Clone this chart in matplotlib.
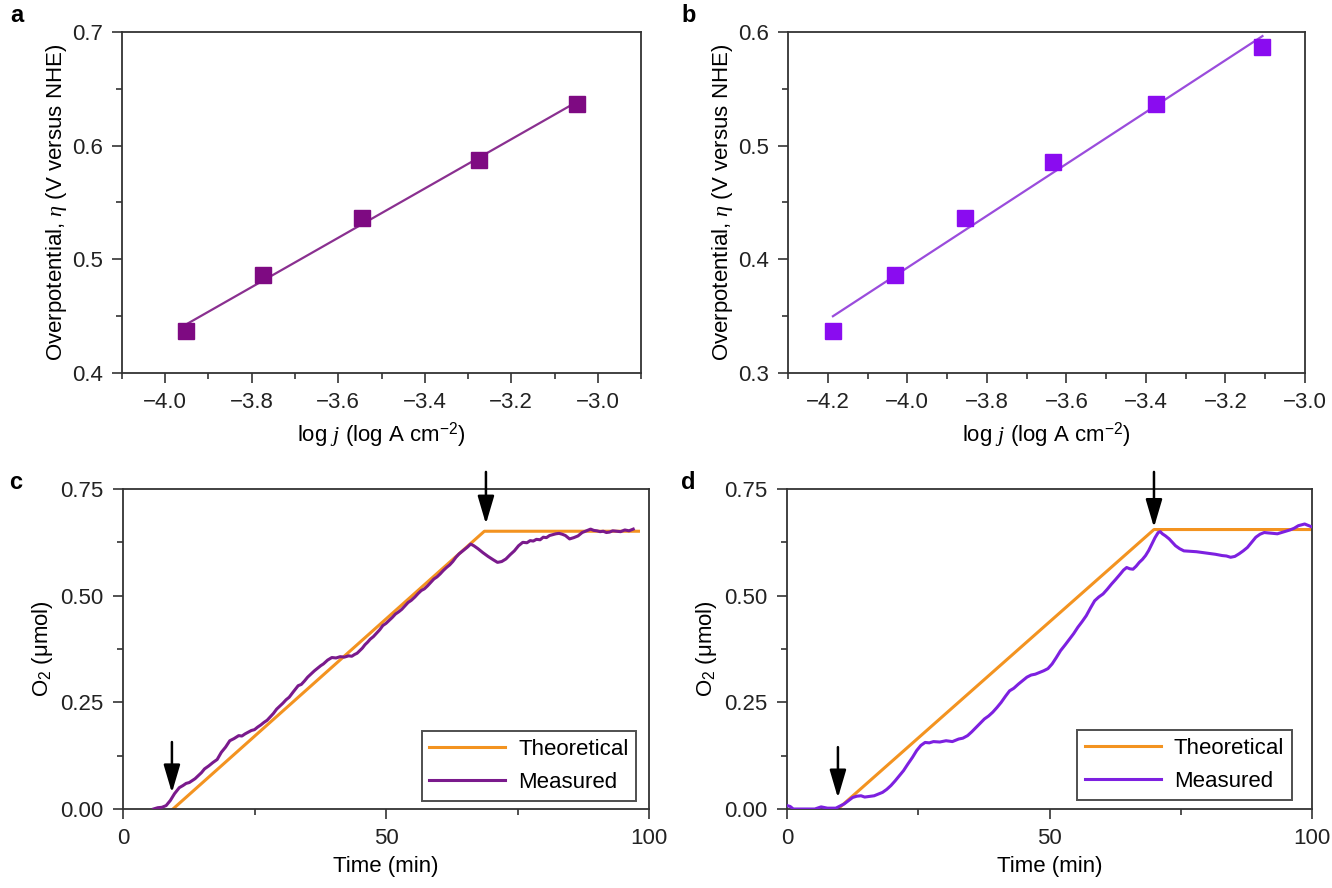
import numpy as np
import matplotlib
matplotlib.use("Agg")
import matplotlib.pyplot as plt
from matplotlib.ticker import MultipleLocator, FuncFormatter

plt.rcParams["font.family"] = ["Liberation Sans", "DejaVu Sans"]
plt.rcParams["mathtext.fontset"] = "custom"
plt.rcParams["mathtext.it"] = "Liberation Serif:italic"
plt.rcParams["mathtext.rm"] = "Liberation Sans"
plt.rcParams["axes.unicode_minus"] = True

# ---- Tafel data ----
tafel_a_logj = [-3.951, -3.774, -3.544, -3.275, -3.049]
tafel_a_eta = [0.437, 0.486, 0.536, 0.587, 0.637]

tafel_b_logj = [-4.187, -4.032, -3.856, -3.633, -3.374, -3.107]
tafel_b_eta = [0.337, 0.386, 0.436, 0.486, 0.537, 0.587]

# ---- O2 evolution: theoretical ----
theo_c_t = [9.5, 68.7, 98.0]
theo_c_o2 = [0.0, 0.651, 0.651]

theo_d_t = [9.7, 69.9, 100.0]
theo_d_o2 = [0.0, 0.655, 0.655]

# ---- O2 evolution: measured ----
meas_c_t = [5.8, 6.6, 7.4, 8.2, 9.0, 9.8, 10.7, 11.4, 12.0, 12.6, 13.1, 13.7, 14.3, 14.9,
            15.5, 16.3, 17.1, 17.9, 18.7, 19.5, 20.3, 21.1, 22.0, 22.6, 23.2, 23.8,
            24.4, 25.0, 25.6, 26.2, 26.8, 27.4, 28.0, 28.6, 29.2, 29.8, 30.4, 31.0,
            31.6, 32.4, 33.3, 33.9, 34.5, 35.1, 35.7, 36.4, 37.0, 37.6, 38.1, 38.9,
            39.7, 40.5, 41.3, 42.1, 42.9, 43.5, 44.0, 44.5, 45.0, 45.5, 46.0, 46.5,
            47.0, 47.6, 48.2, 48.8, 49.4, 50.0, 50.6, 51.2, 51.8, 52.4, 53.0, 53.6,
            54.2, 54.8, 55.5, 56.1, 56.7, 57.3, 57.9, 58.5, 59.1, 59.7, 60.3, 60.9,
            61.5, 62.1, 62.7, 63.3, 63.9, 64.7, 65.5, 66.1, 66.7, 67.5, 68.4, 69.4,
            70.4, 71.2, 72.0, 72.8, 73.6, 74.4, 75.2, 76.0, 76.8, 77.4, 78.0, 78.6,
            79.3, 79.9, 80.5, 81.1, 81.7, 82.3, 82.9, 83.5, 84.1, 84.9, 85.7, 86.5,
            87.3, 88.1, 88.9, 89.5, 90.1, 90.7, 91.3, 91.9, 92.5, 93.1, 93.8, 94.6,
            95.4, 96.2, 97.0]
meas_c_o2 = [0.000, 0.003, 0.004, 0.008, 0.020, 0.036, 0.050, 0.055, 0.060, 0.062,
             0.066, 0.071, 0.078, 0.085, 0.094, 0.101, 0.109, 0.116, 0.133, 0.145,
             0.160, 0.165, 0.172, 0.171, 0.176, 0.180, 0.184, 0.186, 0.192, 0.197,
             0.203, 0.208, 0.216, 0.224, 0.234, 0.241, 0.248, 0.256, 0.262, 0.275,
             0.289, 0.292, 0.300, 0.309, 0.316, 0.324, 0.330, 0.336, 0.340, 0.349,
             0.355, 0.354, 0.357, 0.356, 0.359, 0.358, 0.362, 0.365, 0.371, 0.377,
             0.385, 0.391, 0.398, 0.404, 0.412, 0.420, 0.430, 0.435, 0.442, 0.449,
             0.457, 0.462, 0.468, 0.476, 0.484, 0.489, 0.497, 0.505, 0.512, 0.516,
             0.523, 0.531, 0.539, 0.544, 0.551, 0.559, 0.566, 0.572, 0.580, 0.590,
             0.598, 0.606, 0.614, 0.621, 0.617, 0.610, 0.601, 0.592, 0.584, 0.578,
             0.580, 0.586, 0.596, 0.605, 0.617, 0.625, 0.624, 0.629, 0.628, 0.632,
             0.631, 0.637, 0.636, 0.641, 0.643, 0.645, 0.646, 0.644, 0.641, 0.633,
             0.636, 0.640, 0.648, 0.652, 0.656, 0.653, 0.652, 0.650, 0.651, 0.648,
             0.649, 0.652, 0.651, 0.650, 0.654, 0.652, 0.656]

meas_d_t = [0.0, 0.6, 1.2, 3.0, 5.3, 6.5, 7.7, 9.3, 10.9, 12.5, 13.3, 14.1, 14.8, 15.4,
            16.0, 16.6, 17.4, 18.2, 19.0, 19.8, 20.6, 21.4, 22.2, 23.0, 23.9, 24.7,
            25.5, 26.3, 27.1, 27.9, 29.1, 30.3, 31.5, 32.7, 33.5, 34.4, 35.2, 36.0,
            36.8, 37.6, 38.4, 39.2, 40.0, 40.8, 41.6, 42.4, 43.2, 44.1, 44.9, 45.7,
            46.5, 47.3, 48.1, 48.9, 49.7, 50.5, 51.3, 52.1, 53.0, 53.8, 54.6, 55.4,
            56.2, 57.0, 57.8, 58.6, 59.4, 60.2, 61.0, 61.8, 62.6, 63.5, 64.1, 64.7,
            65.3, 65.9, 66.5, 67.1, 67.7, 68.3, 68.9, 69.5, 70.1, 70.7, 71.1, 71.5,
            72.1, 72.8, 73.4, 74.0, 74.8, 75.6, 76.8, 78.0, 79.2, 80.4, 81.6, 82.9,
            83.7, 84.5, 85.3, 86.1, 86.9, 87.7, 88.5, 89.3, 90.1, 90.9, 91.7, 92.6,
            93.4, 94.2, 95.0, 95.8, 96.6, 97.4, 98.0, 98.6, 99.2, 99.8]
meas_d_o2 = [0.008, 0.006, 0.000, 0.000, 0.000, 0.005, 0.002, 0.002, 0.012, 0.027,
             0.030, 0.031, 0.028, 0.029, 0.030, 0.031, 0.035, 0.039, 0.046, 0.055,
             0.066, 0.078, 0.090, 0.105, 0.121, 0.137, 0.149, 0.156, 0.155, 0.158,
             0.157, 0.160, 0.158, 0.164, 0.166, 0.172, 0.181, 0.191, 0.201, 0.211,
             0.218, 0.227, 0.238, 0.250, 0.264, 0.277, 0.283, 0.293, 0.301, 0.309,
             0.314, 0.316, 0.320, 0.324, 0.329, 0.340, 0.355, 0.371, 0.385, 0.398,
             0.411, 0.426, 0.439, 0.453, 0.471, 0.488, 0.497, 0.504, 0.515, 0.527,
             0.538, 0.551, 0.560, 0.566, 0.563, 0.562, 0.569, 0.578, 0.585, 0.594,
             0.606, 0.621, 0.636, 0.648, 0.650, 0.645, 0.640, 0.633, 0.625, 0.617,
             0.610, 0.605, 0.604, 0.603, 0.601, 0.599, 0.597, 0.594, 0.593, 0.590,
             0.592, 0.598, 0.605, 0.613, 0.625, 0.637, 0.644, 0.648, 0.647, 0.646,
             0.645, 0.648, 0.651, 0.654, 0.658, 0.664, 0.666, 0.668, 0.665, 0.662]

# arrows marking start / end of electrolysis: (time, tail O2, tip O2)
arrows_c = [(9.3, 0.157, 0.038), (69.0, 0.79, 0.668)]
arrows_d = [(9.7, 0.145, 0.026), (69.9, 0.79, 0.660)]

# ---- styling ----
PURPLE_A = "#7e0a82"
PURPLE_A_LINE = "#8a3090"
VIOLET_B = "#8a0cf0"
VIOLET_B_LINE = "#9a4cdc"
MEAS_C = "#7a1a8c"
MEAS_D = "#7d20e0"
ORANGE = "#f39320"
SPINE = "#333333"
FS = 16

W, H = 1332, 888
fig = plt.figure(figsize=(W / 100, H / 100), dpi=100)


def px_axes(left, top, right, bottom):
    return fig.add_axes([left / W, 1 - bottom / H, (right - left) / W, (bottom - top) / H])


def fmt(decimals):
    return FuncFormatter(lambda v, p: f"{v:.{decimals}f}".replace("-", "\u2212"))


def style(ax):
    for s in ax.spines.values():
        s.set_color(SPINE)
        s.set_linewidth(1.3)
    ax.tick_params(which="both", direction="out", colors=SPINE, width=1.2,
                   labelsize=FS, labelcolor="#222222", top=False, right=False)
    ax.tick_params(which="major", length=7, pad=7)
    ax.tick_params(which="minor", length=4)


ax_a = px_axes(122, 32, 641, 373)
ax_b = px_axes(788, 32, 1305, 373)
ax_c = px_axes(123, 489, 649, 809)
ax_d = px_axes(787, 489, 1312, 809)

eta_label = r"Overpotential, $\it{\eta}$ (V versus NHE)"
logj_label = "log $\\it{j}$ (log A cm$^{\u22122}$)"

# Tafel panels
for ax, xs, ys, mcol, lcol, xlim, ylim in [
    (ax_a, tafel_a_logj, tafel_a_eta, PURPLE_A, PURPLE_A_LINE, (-4.1, -2.9), (0.4, 0.7)),
    (ax_b, tafel_b_logj, tafel_b_eta, VIOLET_B, VIOLET_B_LINE, (-4.3, -3.0), (0.3, 0.6)),
]:
    xs = np.asarray(xs)
    ys = np.asarray(ys)
    slope, icpt = np.polyfit(xs, ys, 1)
    xf = np.array([xs.min(), xs.max()])
    ax.plot(xf, slope * xf + icpt, color=lcol, lw=1.6, zorder=2)
    ax.plot(xs, ys, "s", color=mcol, ms=11, mec=mcol, zorder=3)
    ax.set_xlim(*xlim)
    ax.set_ylim(*ylim)
    ax.xaxis.set_major_locator(MultipleLocator(0.2))
    ax.xaxis.set_minor_locator(MultipleLocator(0.1))
    ax.yaxis.set_major_locator(MultipleLocator(0.1))
    ax.yaxis.set_minor_locator(MultipleLocator(0.05))
    ax.xaxis.set_major_formatter(fmt(1))
    ax.yaxis.set_major_formatter(fmt(1))
    ax.set_xlabel(logj_label, fontsize=FS, labelpad=5)
    ax.set_ylabel(eta_label, fontsize=FS, labelpad=2)
    style(ax)

# O2 evolution panels
for ax, tt, to, mt, mo, mcol, arrows, leg_anchor in [
    (ax_c, theo_c_t, theo_c_o2, meas_c_t, meas_c_o2, MEAS_C, arrows_c, (0.976, 0.026)),
    (ax_d, theo_d_t, theo_d_o2, meas_d_t, meas_d_o2, MEAS_D, arrows_d, (0.962, 0.028)),
]:
    ax.plot(tt, to, color=ORANGE, lw=2.2, label="Theoretical", zorder=2)
    ax.plot(mt, mo, color=mcol, lw=2.2, label="Measured", zorder=3)
    for t, y0, y1 in arrows:
        ax.annotate("", xy=(t, y1), xytext=(t, y0), annotation_clip=False,
                    arrowprops=dict(arrowstyle="-|>,head_length=0.95,head_width=0.28",
                                    color="black", lw=1.8, shrinkA=0, shrinkB=0,
                                    mutation_scale=18))
    ax.set_xlim(0, 100)
    ax.set_ylim(0, 0.75)
    ax.xaxis.set_major_locator(MultipleLocator(50))
    ax.xaxis.set_minor_locator(MultipleLocator(25))
    ax.yaxis.set_major_locator(MultipleLocator(0.25))
    ax.yaxis.set_minor_locator(MultipleLocator(0.125))
    ax.xaxis.set_major_formatter(fmt(0))
    ax.yaxis.set_major_formatter(fmt(2))
    ax.set_xlabel("Time (min)", fontsize=FS, labelpad=5)
    ax.set_ylabel(r"O$_2$ ($\mathrm{\mu}$mol)", fontsize=FS, labelpad=4)
    style(ax)
    leg = ax.legend(loc="lower right", bbox_to_anchor=leg_anchor, borderaxespad=0,
                    fontsize=FS, frameon=True, fancybox=False, handlelength=3.4,
                    handletextpad=0.6, borderpad=0.35, labelspacing=0.55)
    leg.get_frame().set_edgecolor("#222222")
    leg.get_frame().set_linewidth(1.4)

# panel letters
for txt, x, y in [("a", 17, 15), ("b", 689, 15), ("c", 16, 482), ("d", 688, 482)]:
    fig.text(x / W, 1 - y / H, txt, fontsize=17, fontweight="bold",
             ha="center", va="center")

fig.savefig("out.png", dpi=100)
